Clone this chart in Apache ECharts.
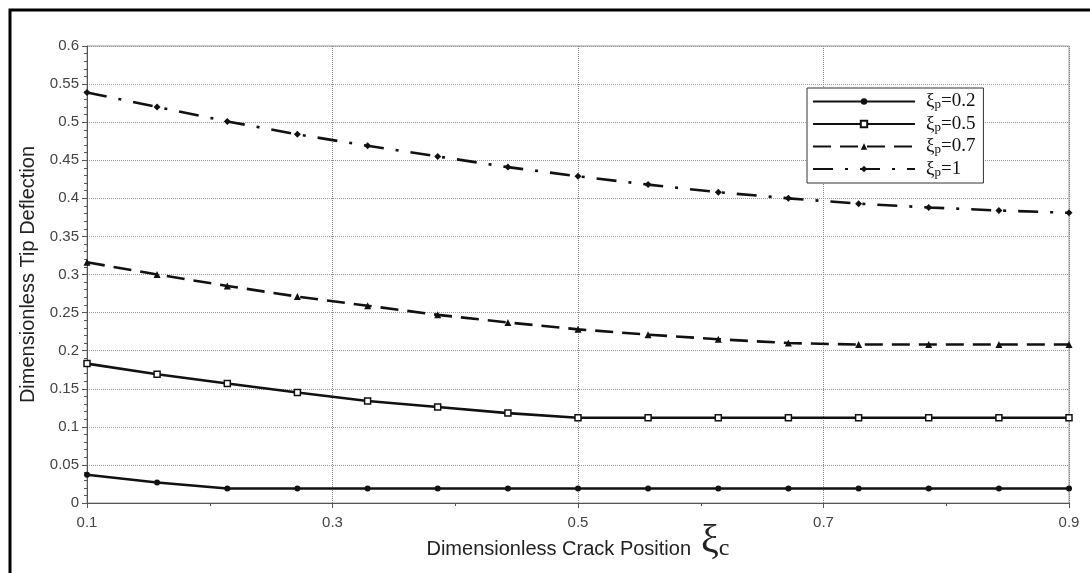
<!DOCTYPE html>
<html>
<head>
<meta charset="utf-8">
<script src="https://cdn.jsdelivr.net/npm/echarts@6/dist/echarts.min.js"></script>
<style>
  html, body { margin: 0; padding: 0; background: #fff; }
  #chart { width: 1090px; height: 573px; }
</style>
</head>
<body>
<div id="chart"></div>
<script>
// crack position (15 stations between 0.1 and 0.9)
const crackPos = [0.1, 0.1571, 0.2143, 0.2714, 0.3286, 0.3857, 0.4429, 0.5,
                  0.5571, 0.6143, 0.6714, 0.7286, 0.7857, 0.8429, 0.9];

// tip deflection for each patch position
const defl02 = [0.037, 0.027, 0.019, 0.019, 0.019, 0.019, 0.019, 0.019,
                0.019, 0.019, 0.019, 0.019, 0.019, 0.019, 0.019];
const defl05 = [0.183, 0.169, 0.157, 0.145, 0.134, 0.126, 0.118, 0.112,
                0.112, 0.112, 0.112, 0.112, 0.112, 0.112, 0.112];
const defl07 = [0.316, 0.300, 0.285, 0.271, 0.259, 0.247, 0.237, 0.228,
                0.221, 0.215, 0.210, 0.208, 0.208, 0.208, 0.208];
const defl10 = [0.539, 0.520, 0.501, 0.484, 0.469, 0.455, 0.441, 0.429,
                0.418, 0.408, 0.400, 0.393, 0.388, 0.384, 0.381];

const seriesNames = ["0.2", "0.5", "0.7", "1"];

function pairs(ys) {
  return crackPos.map((x, i) => [x, ys[i]]);
}

const black = "#111";
function makeSeries(name, ys, symbol, size, dash, hollow) {
  return {
    name: name,
    type: "line",
    data: pairs(ys),
    symbol: symbol,
    symbolSize: size,
    showAllSymbol: true,
    lineStyle: { color: black, width: 2.6, type: dash },
    itemStyle: {
      color: hollow ? "#fff" : black,
      borderColor: black,
      borderWidth: hollow ? 1.5 : 0
    },
    emphasis: { disabled: true },
    z: 3
  };
}

const chart = echarts.init(document.getElementById("chart"));

const option = {
  backgroundColor: "#fff",
  animation: false,
  graphic: [
    {
      type: "rect",
      shape: { x: 10, y: 10, width: 1300, height: 800 },
      style: { fill: null, stroke: "#000", lineWidth: 3 },
      silent: true
    }
  ],
  grid: {
    left: 87, right: 21, top: 46, bottom: 70,
    outerBoundsMode: "none",
    containLabel: false,
    show: true, borderColor: "#999", borderWidth: 1
  },
  legend: {
    orient: "vertical",
    left: 807,
    top: 88,
    padding: [4, 8, 4, 5],
    itemGap: 3,
    itemWidth: 102,
    itemHeight: 8,
    backgroundColor: "#fff",
    borderColor: "#333",
    borderWidth: 1,
    borderRadius: 0,
    data: seriesNames,
    formatter: name => "{sp|}{g|ξ}{s|p}{g|=" + name + "}",
    textStyle: {
      rich: {
        sp: { width: 6 },
        g: { fontFamily: "Liberation Serif", fontSize: 19, color: "#111" },
        s: { fontFamily: "Liberation Serif", fontSize: 13, color: "#111", padding: [7, 0, 0, 0] }
      }
    }
  },
  xAxis: {
    type: "value",
    min: 0.1,
    max: 0.9,
    interval: 0.2,
    name: "{a|Dimensionless Crack Position}   {x|ξ}{c|c}",
    nameLocation: "middle",
    nameMoveOverlap: false,
    nameGap: 18,
    nameTextStyle: {
      rich: {
        a: { fontFamily: "Liberation Sans", fontSize: 20, color: "#222", padding: [16, 0, 0, 0] },
        x: { fontFamily: "Liberation Serif", fontSize: 40, color: "#222" },
        c: { fontFamily: "Liberation Serif", fontSize: 24, color: "#222", padding: [16, 0, 0, 0] }
      }
    },
    axisLine: { lineStyle: { color: "#555", width: 1 } },
    axisTick: { show: true, length: 5, lineStyle: { color: "#555" } },
    minorTick: { show: true, splitNumber: 2, length: 3, lineStyle: { color: "#555" } },
    axisLabel: { color: "#444", fontFamily: "Liberation Sans", fontSize: 15, margin: 12 },
    splitLine: { show: true, lineStyle: { color: "#888", type: "dotted", width: 1 } }
  },
  yAxis: {
    type: "value",
    min: 0,
    max: 0.6,
    interval: 0.05,
    name: "Dimensionless Tip Deflection",
    nameLocation: "middle",
    nameGap: 46,
    nameTextStyle: { fontFamily: "Liberation Sans", fontSize: 20, color: "#222" },
    axisLine: { show: true, lineStyle: { color: "#555", width: 1 } },
    axisTick: { show: true, length: 5, lineStyle: { color: "#555" } },
    minorTick: { show: true, splitNumber: 5, length: 3, lineStyle: { color: "#555" } },
    axisLabel: { color: "#444", fontFamily: "Liberation Sans", fontSize: 15, margin: 8 },
    splitLine: { show: true, lineStyle: { color: "#999", type: "dotted", width: 1 } }
  },
  series: [
    makeSeries("0.2", defl02, "circle", 6, "solid", false),
    makeSeries("0.5", defl05, "rect", 6, "solid", true),
    makeSeries("0.7", defl07, "triangle", 7, [18, 9], false),
    makeSeries("1", defl10, "diamond", 7, [20, 12, 3, 12], false)
  ]
};

chart.setOption(option);
</script>
</body>
</html>
